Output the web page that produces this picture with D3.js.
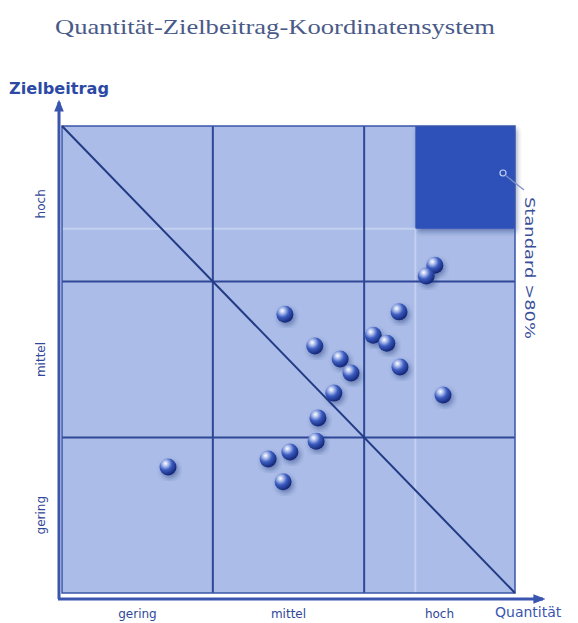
<!DOCTYPE html>
<html>
<head>
<meta charset="utf-8">
<script src="https://cdn.jsdelivr.net/npm/d3@7"></script>
<style>
  body { margin: 0; background: #fff; }
  svg { display: block; }
  .cat text { font-family: "DejaVu Sans", sans-serif; font-size: 12px; fill: #2f4797; }
</style>
</head>
<body>
<svg id="chart" width="578" height="623"></svg>
<script>
// levels on both axes
const levels = ["gering", "mittel", "hoch"];
const levelBounds = [0, 33.3, 66.7, 100];
const standard = 78; // "Standard > 80%" zone

// Quantität (x) / Zielbeitrag (y), 0..100
const quantitaet = [49.2, 55.8, 61.4, 63.8, 60.0, 56.5, 56.1, 50.3, 45.5, 48.8, 23.4, 74.4, 68.7, 71.7, 74.6, 84.1, 82.3, 80.4];
const zielbeitrag = [59.7, 52.9, 50.1, 47.1, 42.8, 37.5, 32.5, 30.2, 28.7, 23.8, 27.0, 60.2, 55.2, 53.5, 48.4, 42.4, 70.2, 67.9];

const svg = d3.select("#chart");
const pLeft = 62, pRight = 515, pTop = 126, pBottom = 593;

const x = d3.scaleLinear().domain([0, 100]).range([pLeft, pRight]);
const y = d3.scaleLinear().domain([0, 100]).range([pBottom, pTop]);
const xCat = d3.scaleBand().domain(levels).range([pLeft, pRight]);
const yCat = d3.scaleBand().domain(levels).range([pBottom, pTop]);

const defs = svg.append("defs");
const grad = defs.append("radialGradient").attr("id", "ball")
    .attr("cx", "35%").attr("cy", "30%").attr("r", "70%");
grad.append("stop").attr("offset", "0%").attr("stop-color", "#ffffff");
grad.append("stop").attr("offset", "22%").attr("stop-color", "#b4c4ef");
grad.append("stop").attr("offset", "55%").attr("stop-color", "#3c5cc0");
grad.append("stop").attr("offset", "100%").attr("stop-color", "#14287a");

const shadow = defs.append("filter").attr("id", "shadow")
    .attr("x", "-20%").attr("y", "-20%").attr("width", "150%").attr("height", "150%");
shadow.append("feDropShadow").attr("dx", 2).attr("dy", 3).attr("stdDeviation", 2.5)
    .attr("flood-color", "#1a2a70").attr("flood-opacity", 0.45);

const arrow = defs.append("marker").attr("id", "arrow")
    .attr("viewBox", "0 0 10 10").attr("refX", 8).attr("refY", 5)
    .attr("markerWidth", 4).attr("markerHeight", 4).attr("orient", "auto");
arrow.append("path").attr("d", "M0,1L10,5L0,9z").attr("fill", "#3a55b0");

// title
svg.append("text")
    .attr("x", 55).attr("y", 34)
    .attr("textLength", 440)
    .attr("lengthAdjust", "spacingAndGlyphs")
    .style("font-family", "'Liberation Serif', 'DejaVu Serif', serif")
    .style("font-size", "22px")
    .style("fill", "#4a5a88")
    .text("Quantität-Zielbeitrag-Koordinatensystem");

// plot background
svg.append("rect")
    .attr("x", x(0)).attr("y", y(100))
    .attr("width", x(100) - x(0)).attr("height", y(0) - y(100))
    .attr("fill", "#aabce7");

// standard zone
svg.append("rect")
    .attr("x", x(standard)).attr("y", y(100))
    .attr("width", x(100) - x(standard)).attr("height", y(standard) - y(100))
    .attr("fill", "#2d51b9")
    .attr("filter", "url(#shadow)");

// faint lines at the standard level
svg.append("line")
    .attr("x1", x(standard)).attr("x2", x(standard))
    .attr("y1", y(standard)).attr("y2", y(0))
    .attr("stroke", "#d4def6").attr("stroke-width", 2).attr("opacity", 0.6);
svg.append("line")
    .attr("x1", x(0)).attr("x2", x(standard))
    .attr("y1", y(standard)).attr("y2", y(standard))
    .attr("stroke", "#d4def6").attr("stroke-width", 2).attr("opacity", 0.6);

// grid
const inner = levelBounds.slice(1, -1);
svg.selectAll(".vgrid").data(inner).enter().append("line")
    .attr("x1", d => x(d)).attr("x2", d => x(d))
    .attr("y1", y(100)).attr("y2", y(0))
    .attr("stroke", "#2f4796").attr("stroke-width", 2);
svg.selectAll(".hgrid").data(inner).enter().append("line")
    .attr("x1", x(0)).attr("x2", x(100))
    .attr("y1", d => y(d)).attr("y2", d => y(d))
    .attr("stroke", "#2f4796").attr("stroke-width", 2);

// border
svg.append("path")
    .attr("d", `M${x(0)},${y(100)}H${x(100)}V${y(0)}H${x(0)}Z`)
    .attr("fill", "none").attr("stroke", "#3a55a8").attr("stroke-width", 1.5);

// diagonal
svg.append("line")
    .attr("x1", x(0)).attr("y1", y(100))
    .attr("x2", x(100)).attr("y2", y(0))
    .attr("stroke", "#233a85").attr("stroke-width", 2);

// points
svg.selectAll(".pt").data(quantitaet).enter().append("circle")
    .attr("class", "pt")
    .attr("cx", d => x(d))
    .attr("cy", (d, i) => y(zielbeitrag[i]))
    .attr("r", 8.5)
    .attr("fill", "url(#ball)")
    .attr("filter", "url(#shadow)");

// axes
svg.append("line")
    .attr("x1", pLeft - 4).attr("y1", pBottom + 6)
    .attr("x2", pRight + 28).attr("y2", pBottom + 6)
    .attr("stroke", "#3a55b0").attr("stroke-width", 3)
    .attr("marker-end", "url(#arrow)");
svg.append("line")
    .attr("x1", pLeft - 3).attr("y1", pBottom + 6)
    .attr("x2", pLeft - 3).attr("y2", pTop - 24)
    .attr("stroke", "#3a55b0").attr("stroke-width", 3)
    .attr("marker-end", "url(#arrow)");

svg.append("g").attr("class", "cat")
    .attr("transform", `translate(0,${pBottom + 6})`)
    .call(d3.axisBottom(xCat).tickSize(0).tickPadding(10))
    .call(g => g.select(".domain").remove());

svg.append("g").attr("class", "cat")
    .attr("transform", `translate(${pLeft - 3},0)`)
    .call(d3.axisLeft(yCat).tickSize(0).tickPadding(0))
    .call(g => g.select(".domain").remove())
    .selectAll("text")
    .attr("x", 0).attr("dy", 0)
    .attr("transform", "translate(-14,0) rotate(-90)")
    .attr("text-anchor", "middle");

svg.append("text")
    .attr("x", 9).attr("y", 94)
    .attr("textLength", 100)
    .attr("lengthAdjust", "spacingAndGlyphs")
    .style("font-family", "'DejaVu Sans', sans-serif")
    .style("font-size", "15px").style("font-weight", "bold")
    .style("fill", "#2c4aa5")
    .text("Zielbeitrag");

svg.append("text")
    .attr("x", 495).attr("y", 617)
    .style("font-family", "'DejaVu Sans', sans-serif")
    .style("font-size", "14px")
    .style("fill", "#3a55b0")
    .text("Quantität");

// standard annotation
svg.append("circle").attr("cx", 503).attr("cy", 173).attr("r", 3)
    .attr("fill", "none").attr("stroke", "#c6d2f2").attr("stroke-width", 1.2);
svg.append("line")
    .attr("x1", 505).attr("y1", 175).attr("x2", 524).attr("y2", 190)
    .attr("stroke", "#7d8fc4").attr("stroke-width", 1.2);
svg.append("text")
    .attr("transform", "translate(525,197) rotate(90)")
    .attr("textLength", 142)
    .attr("lengthAdjust", "spacingAndGlyphs")
    .style("font-family", "'DejaVu Sans', sans-serif")
    .style("font-size", "14px")
    .style("fill", "#3a4f9a")
    .text("Standard >80%");
</script>
</body>
</html>
